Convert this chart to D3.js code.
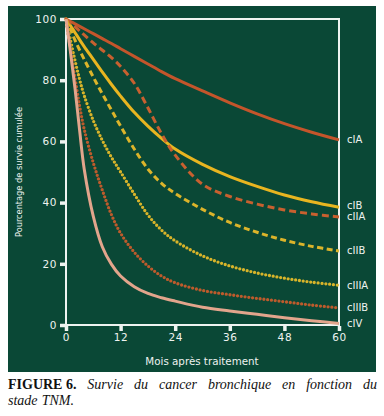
<!DOCTYPE html>
<html><head><meta charset="utf-8">
<script src="https://cdn.jsdelivr.net/npm/d3@7/dist/d3.min.js"></script>
<style>
html,body{margin:0;padding:0;background:#fff;}
svg{display:block;}
</style></head>
<body>
<script>
// ---- data ----
const months = [0,1,2,3,4,6,8,10,12,15,18,21,24,30,36,42,48,54,60];
const xTicks = [0,12,24,36,48,60];
const yTicks = [0,20,40,60,80,100];
const seriesNames = ["cIA","cIB","cIIA","cIIB","cIIIA","cIIIB","cIV"];
const cIA   = [100,99.2,98.4,97.6,96.8,95.2,93.6,92,90.3,87.8,85.3,82.8,80.5,76.5,72.6,69,65.8,63,60.5];
const cIB   = [100,97.8,95.5,93.2,91,86.8,82.6,78.6,74.8,69.5,65,61,57.5,52.5,48.5,45.3,42.5,40.3,38.5];
const cIIA  = [100,98.7,97.4,96.1,94.8,92.2,89.8,87.4,84.5,79,71,62.5,55.5,46,42,39.5,37.6,36.3,35.3];
const cIIB  = [100,96.5,93,89.8,86.8,81,75.5,70.2,65,57.5,51,46.3,43,37.8,33.5,30.3,27.7,25.7,24.2];
const cIIIA = [100,93,86.3,80.2,75,66.8,60.3,54.8,50,42.8,36,31,27.5,22.6,19.3,17,15.3,14,13];
const cIIIB = [100,90,80.5,71.5,64,53,44,36,30,23.8,19.3,16,13.8,11.3,9.9,8.7,7.6,6.5,5.6];
const cIV   = [100,89,77,63.5,51,35.5,25.5,19.8,16,12.5,10.3,8.9,7.8,5.8,4.6,3.5,2.4,1.4,0.5];
const seriesValues = [cIA,cIB,cIIA,cIIB,cIIIA,cIIIB,cIV];
const yTitle = "Pourcentage de survie cumulée";
const xTitle = "Mois après traitement";
const captionBold = "FIGURE 6.";
const captionLine1 = "Survie du cancer bronchique en fonction du";
const captionLine2 = "stade TNM.";

// ---- styles ----
const styles = {
  cIA:  {color:"#c4552b", dash:null, cap:"butt", w:3},
  cIB:  {color:"#e8b520", dash:null, cap:"butt", w:3},
  cIIA: {color:"#c8602f", dash:"7,4", cap:"butt", w:3},
  cIIB: {color:"#dcb42a", dash:"6,3.5", cap:"butt", w:3},
  cIIIA:{color:"#d8b42a", dash:"0,3.8", cap:"round", w:3.3},
  cIIIB:{color:"#bd5b2c", dash:"0,3.8", cap:"round", w:3.3},
  cIV:  {color:"#e2a58c", dash:null, cap:"butt", w:3}
};

const W=384,H=416;
const svg=d3.select("body").append("svg").attr("width",W).attr("height",H);
svg.append("rect").attr("x",8).attr("y",6).attr("width",368).attr("height",366).attr("fill","#0a4836");

const x=d3.scaleLinear().domain([0,60]).range([66,339]);
const y=d3.scaleLinear().domain([0,100]).range([325,19]);
const fg="#eef3f0";

// frame
svg.append("rect").attr("x",x(0)).attr("y",y(100)).attr("width",x(60)-x(0)).attr("height",y(0)-y(100))
  .attr("fill","none").attr("stroke",fg).attr("stroke-width",2);

const gy=svg.append("g").attr("transform",`translate(${x(0)-1},0)`)
  .call(d3.axisLeft(y).tickValues(yTicks).tickSize(5).tickPadding(3));
const gx=svg.append("g").attr("transform",`translate(0,${y(0)+1})`)
  .call(d3.axisBottom(x).tickValues(xTicks).tickSize(5).tickPadding(3));
[gy,gx].forEach(g=>{
  g.select(".domain").remove();
  g.selectAll(".tick line").attr("stroke",fg).attr("stroke-width",3.5);
  g.selectAll(".tick text").attr("fill",fg).attr("font-family","DejaVu Sans").attr("font-size",10.5).attr("letter-spacing",0.6);
});

// lines
const line=d3.line().x(d=>x(d[0])).y(d=>y(d[1])).curve(d3.curveCatmullRom.alpha(0.5));
seriesNames.forEach((n,i)=>{
  const pts=months.map((m,j)=>[m,seriesValues[i][j]]);
  const st=styles[n];
  svg.append("path").attr("d",line(pts)).attr("fill","none")
    .attr("stroke",st.color).attr("stroke-width",st.w)
    .attr("stroke-dasharray",st.dash).attr("stroke-linecap",st.cap);
});

// end labels, de-overlapped (push upward when closer than minGap)
const minGap=11;
const labelY=seriesValues.map(v=>y(v[v.length-1]));
for(let i=labelY.length-2;i>=0;i--){
  if(labelY[i+1]-labelY[i]<minGap) labelY[i]=labelY[i+1]-minGap;
}
seriesNames.forEach((n,i)=>{
  svg.append("text").attr("x",347).attr("y",labelY[i])
    .attr("dy","0.35em").attr("fill",fg).attr("font-family","DejaVu Sans").attr("font-size",10).text(n);
});

// axis titles
svg.append("text").attr("transform",`translate(22,172) rotate(-90)`).attr("text-anchor","middle")
  .attr("fill",fg).attr("font-family","DejaVu Sans Condensed").attr("font-size",9.5)
  .attr("textLength",130).attr("lengthAdjust","spacingAndGlyphs").text(yTitle);
svg.append("text").attr("x",202).attr("y",365).attr("text-anchor","middle")
  .attr("fill",fg).attr("font-family","DejaVu Sans").attr("font-size",10.3).text(xTitle);

// caption (justified first line)
const capFont="Liberation Serif";
let capSize=12;
const words1=[{t:captionBold,b:true}].concat(captionLine1.split(" ").map(t=>({t,b:false})));
const words2=captionLine2.split(" ").map(t=>({t,b:false}));
function measure(w,s){
  const t=svg.append("text").attr("font-family",capFont).attr("font-size",s)
    .attr("font-weight",w.b?"bold":"normal").attr("font-style",w.b?"normal":"italic").text(w.t);
  const l=t.node().getComputedTextLength(); t.remove(); return l;
}
const left=8, right=377;
const base=d3.sum(words1,w=>measure(w,12));
capSize=Math.min(14, 12*(right-left-(words1.length-1)*4.5)/base);
function drawWord(w,px,py){
  svg.append("text").attr("x",px).attr("y",py).attr("font-family",capFont).attr("font-size",capSize)
    .attr("font-weight",w.b?"bold":"normal").attr("font-style",w.b?"normal":"italic").attr("fill","#111").text(w.t);
}
const widths=words1.map(w=>measure(w,capSize));
const gap=(right-left-d3.sum(widths))/(words1.length-1);
let cx=left;
words1.forEach((w,i)=>{drawWord(w,cx,389);cx+=widths[i]+gap;});
cx=left;
words2.forEach(w=>{drawWord(w,cx,405);cx+=measure(w,capSize)+capSize*0.3;});
</script>
</body></html>
